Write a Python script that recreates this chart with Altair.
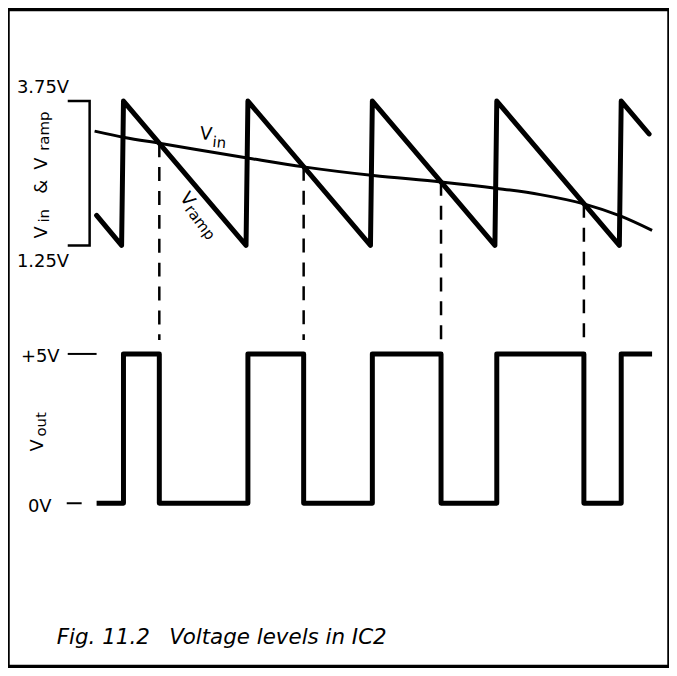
import altair as alt
import pandas as pd

# ---------------- data ----------------
# Sawtooth V_ramp vertices: time (in ramp periods) and volts
ramp_t = [0.784, 0.985, 1.0, 1.985, 2.0, 2.985, 3.0, 3.985, 4.0, 4.985, 5.0, 5.224]
ramp_v = [1.77, 1.25, 3.75, 1.25, 3.75, 1.25, 3.75, 1.25, 3.75, 1.25, 3.75, 3.18]

# Slowly falling input voltage V_in
vin_t = [0.768, 1.008, 1.288, 2.008, 2.448, 3.008, 3.552, 3.992, 4.35, 4.70, 4.992, 5.248]
vin_v = [3.23, 3.12, 3.02, 2.76, 2.61, 2.46, 2.35, 2.24, 2.13, 1.97, 1.76, 1.51]

# Points where V_ramp crosses V_in (dashed guide lines)
cross_t = [1.288, 2.448, 3.552, 4.70]
cross_v = [3.02, 2.61, 2.35, 1.97]

# Comparator output V_out (step after each time)
vout_t = [0.784, 1.0, 1.288, 2.0, 2.448, 3.0, 3.552, 4.0, 4.70, 5.0, 5.248]
vout_v = [0, 5, 0, 5, 0, 5, 0, 5, 0, 5, 5]

# Bracket marking the 1.25 V .. 3.75 V span
bracket_t = [0.552, 0.728, 0.728, 0.552]
bracket_v = [3.75, 3.75, 1.25, 1.25]

# Short level markers beside "+5V" and "0V"
level_v = [5, 0]
level_t0 = [0.552, 0.544]
level_t1 = [0.784, 0.664]

# ---------------- layout ----------------
W, H = 664, 660          # plot area (page x 8..672, y 8..668)
T0, T1 = 0.072, 5.384    # time domain across the frame
# ramp scale: 3.75 V at plot y 92, 1.25 V at plot y 237
RAMP_PX_PER_V = 58.0
r_hi = 3.75 + 92 / RAMP_PX_PER_V
r_lo = r_hi - H / RAMP_PX_PER_V
# output scale: 5 V at plot y 346, 0 V at plot y 496
OUT_PX_PER_V = 30.0
o_hi = 5 + 346 / OUT_PX_PER_V
o_lo = o_hi - H / OUT_PX_PER_V
DASH_END_V = r_hi - 332 / RAMP_PX_PER_V

FONT = "DejaVu Sans"

xs = alt.Scale(domain=[T0, T1], nice=False, zero=False)
ys_r = alt.Scale(domain=[r_lo, r_hi], nice=False, zero=False)
ys_o = alt.Scale(domain=[o_lo, o_hi], nice=False, zero=False)

ramp_df = pd.DataFrame({"t": ramp_t, "v": ramp_v, "i": range(len(ramp_t))})
vin_df = pd.DataFrame({"t": vin_t, "v": vin_v})
cross_df = pd.DataFrame({"t": cross_t, "v": cross_v, "v2": [DASH_END_V] * len(cross_t)})
vout_df = pd.DataFrame({"t": vout_t, "v": vout_v})
br_df = pd.DataFrame({"t": bracket_t, "v": bracket_v, "i": range(len(bracket_t))})
lvl_df = pd.DataFrame({"v": level_v, "t0": level_t0, "t1": level_t1})

ramp = alt.Chart(ramp_df).mark_line(color="black", strokeWidth=5, strokeCap="round", strokeJoin="round").encode(
    x=alt.X("t:Q", scale=xs, axis=None),
    y=alt.Y("v:Q", scale=ys_r, axis=None),
    order="i:Q",
)
vin = alt.Chart(vin_df).mark_line(color="black", strokeWidth=3, interpolate="monotone").encode(
    x=alt.X("t:Q", scale=xs, axis=None),
    y=alt.Y("v:Q", scale=ys_r, axis=None),
)
dashes = alt.Chart(cross_df).mark_rule(color="black", strokeWidth=2.5, strokeDash=[14, 10]).encode(
    x=alt.X("t:Q", scale=xs, axis=None),
    y=alt.Y("v:Q", scale=ys_r, axis=None),
    y2="v2:Q",
)
bracket = alt.Chart(br_df).mark_line(color="black", strokeWidth=2.5).encode(
    x=alt.X("t:Q", scale=xs, axis=None),
    y=alt.Y("v:Q", scale=ys_r, axis=None),
    order="i:Q",
)
vout = alt.Chart(vout_df).mark_line(color="black", strokeWidth=5, interpolate="step-after", strokeJoin="round").encode(
    x=alt.X("t:Q", scale=xs, axis=None),
    y=alt.Y("v:Q", scale=ys_o, axis=None),
)
levels = alt.Chart(lvl_df).mark_rule(color="black", strokeWidth=2).encode(
    x=alt.X("t0:Q", scale=xs, axis=None),
    x2="t1:Q",
    y=alt.Y("v:Q", scale=ys_o, axis=None),
)

# text labels: page coordinates, converted to plot coordinates (page margin 8px)
lab_text = ["3.75V", "1.25V", "+5V", "0V",
            "V", "in", "&", "V", "ramp",
            "V", "out",
            "V", "in",
            "V", "ramp"]
lab_x = [17, 17, 21, 28, 47, 49, 47, 47, 49, 43, 46, 200, 213, 180, 185]
lab_y = [92, 267, 362, 513, 238, 222, 193, 169, 150, 452, 437, 138, 146, 197, 209]
lab_size = [18, 18, 18, 18, 18, 15, 18, 18, 15, 18, 15, 18, 15, 18, 15]
lab_angle = [0, 0, 0, 0, 270, 270, 270, 270, 270, 270, 270, 6, 6, 53, 53]
lab_df = pd.DataFrame({
    "text": lab_text,
    "px": [x - 8 for x in lab_x],
    "py": [y - 8 for y in lab_y],
    "size": lab_size,
    "angle": lab_angle,
})
labels = alt.Chart(lab_df).mark_text(align="left", baseline="alphabetic", font=FONT, color="black").encode(
    x=alt.X("px:Q", scale=None),
    y=alt.Y("py:Q", scale=None),
    text="text:N",
    size=alt.Size("size:Q", scale=None),
    angle=alt.Angle("angle:Q", scale=None),
)

cap_df = pd.DataFrame({"text": ["Fig. 11.2", "Voltage levels in IC2"],
                       "px": [57 - 8, 170 - 8], "py": [645 - 8, 645 - 8]})
caption = alt.Chart(cap_df).mark_text(align="left", baseline="alphabetic", font=FONT, fontSize=21.5,
                                      fontStyle="italic", color="black").encode(
    x=alt.X("px:Q", scale=None),
    y=alt.Y("py:Q", scale=None),
    text="text:N",
)

chart = alt.layer(bracket, vin, ramp, dashes, vout, levels, labels, caption).resolve_scale(
    x="independent", y="independent"
).properties(
    width=W, height=H, padding=0, autosize=alt.AutoSizeParams(type="none"), background="white"
).configure_view(stroke="black", strokeWidth=3.5)

chart.save("out.html", embed_options={"renderer": "svg", "actions": False})
